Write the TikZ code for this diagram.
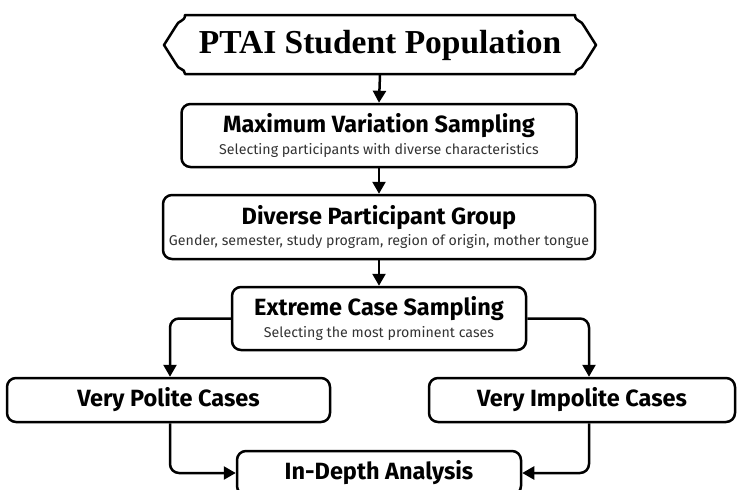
\documentclass[tikz,border=0pt]{standalone}
\usepackage{fontspec}
\setmainfont{Fira Sans}
\newfontfamily\bannerfont{Liberation Serif}
\usetikzlibrary{arrows.meta}
\definecolor{subgray}{HTML}{333333}
\newcommand{\hdfont}{\fontsize{23.5}{26}\selectfont\bfseries}
\newcommand{\subtxt}[1]{{\fontsize{14.2}{17}\selectfont\mdseries\color{subgray}#1}}
\begin{document}
\begin{tikzpicture}[x=1pt,y=-1pt,
  box/.style={draw, line width=2.5pt, rounded corners=9pt, align=center, inner sep=0pt},
  arr/.style={line width=2.5pt, -{Triangle[length=12pt,width=13pt]}, rounded corners=9pt}
]
\path[use as bounding box] (0,0) rectangle (737,490);
\clip (0,0) rectangle (737,490);

% banner
\node[minimum width=410pt, minimum height=59pt, inner sep=0pt,
      font=\fontsize{33.5}{36}\selectfont\bannerfont\bfseries] (title) at (380,45) {PTAI Student Population};
\draw[line width=2.5pt, line join=round]
  (185,15) -- (575,15)
  .. controls (575,22) and (582,20) .. (584,26) -- (596,45) -- (584,64)
  .. controls (582,70) and (575,68) .. (575,74)
  -- (185,74)
  .. controls (185,68) and (178,70) .. (176,64) -- (164,45) -- (176,26)
  .. controls (178,20) and (185,22) .. (185,15) -- cycle;

\node[box, minimum width=395pt, minimum height=63pt] (max) at (379,135.5)
  {\hdfont Maximum Variation Sampling\\[4pt]
   \subtxt{Selecting participants with diverse characteristics}};
\node[box, minimum width=432pt, minimum height=64pt] (div) at (379,227)
  {\hdfont Diverse Participant Group\\[4pt]
   \subtxt{Gender, semester, study program, region of origin, mother tongue}};
\node[box, minimum width=294pt, minimum height=63pt] (ext) at (379,318.5)
  {\hdfont Extreme Case Sampling\\[4pt]
   \subtxt{Selecting the most prominent cases}};
\node[box, minimum width=323pt, minimum height=44pt, font=\hdfont] (pol) at (168.5,400) {Very Polite Cases};
\node[box, minimum width=306pt, minimum height=44pt, font=\hdfont] (imp) at (582,400) {Very Impolite Cases};
\node[box, minimum width=284pt, minimum height=44pt, font=\hdfont] (ana) at (379,473) {In-Depth Analysis};

\draw[arr] (title.south) -- (max.north);
\draw[arr] (max.south) -- (div.north);
\draw[arr] (div.south) -- (ext.north);
\draw[arr] (ext.west) -| ([xshift=1.5pt]pol.north);
\draw[arr] (ext.east) -| ([xshift=7pt]imp.north);
\draw[arr] ([xshift=1.5pt]pol.south) |- (ana.west);
\draw[arr] ([xshift=7pt]imp.south) |- (ana.east);
\end{tikzpicture}
\end{document}
